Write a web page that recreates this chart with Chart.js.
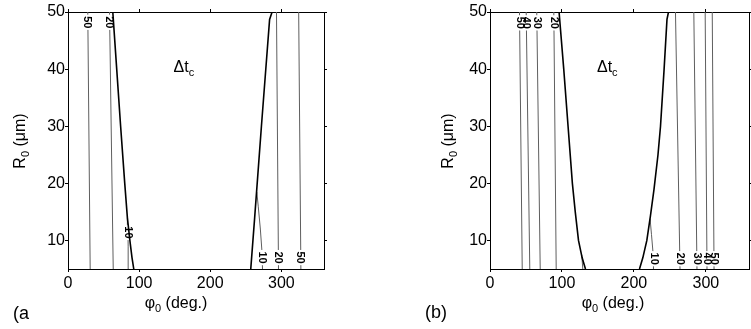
<!DOCTYPE html>
<html>
<head>
<meta charset="utf-8">
<script src="https://cdn.jsdelivr.net/npm/chart.js@4.4.1/dist/chart.umd.min.js"></script>
<style>
  html, body { margin: 0; padding: 0; background: #fff; }
  body { width: 751px; height: 329px; position: relative; overflow: hidden; }
  canvas { position: absolute; top: 0; }
  #chartA { left: 0; }
  #chartB { left: 420px; }
</style>
</head>
<body>
<canvas id="chartA" width="375" height="329"></canvas>
<canvas id="chartB" width="331" height="329"></canvas>
<script>
// tick labels, same for both panels
const phiTicks = [0, 100, 200, 300];
const rTicks = [10, 20, 30, 40, 50];

// panel (a): thin contours, phi0 (deg.) against R0 (um), bottom to top
const levelsA = [50, 20, 10, 10, 20, 50];
const phiA = [
  [31.2, 27.8],
  [63.6, 58.4],
  [85, 84.6, 84.2, 83.5],
  [273.5, 272.8, 270.5, 267.5, 265.5],
  [296, 293.2],
  [327.5, 324.4]
];
const rA = [
  [5, 50],
  [5, 50],
  [5, 9, 12, 14],
  [5, 8, 12, 16, 18.5],
  [5, 50],
  [5, 50]
];
// panel (a): thick boundary
const edgePhiA = [
  [92.5, 90, 87, 83.5, 79.8, 74, 68.5, 63],
  [257, 262.5, 272, 283.5, 287]
];
const edgeRA = [
  [5, 7, 10, 14, 20, 30, 40, 50],
  [5, 14, 30, 48.7, 50]
];
// panel (a): contour labels
const labelLevelsA = [50, 20, 10, 10, 20, 50];
const labelPhiA = [27.2, 57.5, 84.5, 273, 295, 326.2];
const labelRA = [48.2, 48.2, 11.4, 7, 7, 7];

// panel (b): thin contours
const levelsB = [50, 40, 30, 20, 10, 10, 20, 30, 40, 50];
const phiB = [
  [44.8, 41],
  [55.3, 50.3],
  [69.8, 65],
  [92, 88.7],
  [129, 127.5],
  [227.7, 227.2, 226.5, 224.5, 222.5],
  [264.1, 257.8],
  [287.7, 283.3],
  [301.6, 299.1],
  [311.4, 308.9]
];
const rB = [
  [5, 50],
  [5, 50],
  [5, 50],
  [5, 50],
  [5, 7.5],
  [5, 6, 8, 11, 13.8],
  [5, 50],
  [5, 50],
  [5, 50],
  [5, 50]
];
// panel (b): thick boundary
const edgePhiB = [
  [132.7, 128, 123, 118.5, 114.5, 108.5, 102.5, 96],
  [207.8, 212.5, 218, 223, 228, 233.5, 237, 242, 246, 248.1]
];
const edgeRB = [
  [5, 7, 10, 15, 20, 30, 40, 50],
  [5, 7, 10, 14.3, 19, 25, 30, 40, 48.7, 50]
];
// panel (b): contour labels
const labelLevelsB = [50, 40, 30, 20, 10, 20, 30, 40, 50];
const labelPhiB = [41.2, 50.5, 65.2, 88.8, 227.4, 263.8, 287.5, 301.4, 311.2];
const labelRB = [48.1, 48.1, 48.1, 48.1, 6.8, 6.8, 6.8, 6.8, 6.8];

// position of the Delta t_c note, in data units
const notePhi = 163;
const noteR = 40.5;

const FONT = '"Liberation Sans", Arial, sans-serif';

function series(phis, rs) {
  return phis.map((p, i) => ({ x: p, y: rs[i] }));
}

function buildDatasets(levels, phis, rs, edgePhis, edgeRs) {
  const ds = [];
  edgePhis.forEach((p, i) => ds.push({
    data: series(p, edgeRs[i]), showLine: true, borderColor: '#000', borderWidth: 1.6, order: 0
  }));
  phis.forEach((p, i) => ds.push({
    label: String(levels[i]), data: series(p, rs[i]), showLine: true,
    borderColor: '#5e5e5e', borderWidth: 1, order: 1
  }));
  return ds;
}

// text with subscripts: parts = [text, size, dy]
function richWidth(ctx, parts) {
  let w = 0;
  parts.forEach(([t, size]) => { ctx.font = size + 'px ' + FONT; w += ctx.measureText(t).width; });
  return w;
}
function drawRich(ctx, parts, x, y) {
  parts.forEach(([t, size, dy]) => {
    ctx.font = size + 'px ' + FONT;
    ctx.fillText(t, x, y + dy);
    x += ctx.measureText(t).width;
  });
}

const contourText = {
  id: 'contourText',
  beforeDatasetsDraw(chart) { chart.$labelled = false; },
  beforeDatasetDraw(chart, args) {
    // put labels on the thin lines before the thick boundary is drawn
    if (chart.$labelled || chart.data.datasets[args.index].order !== 0) return;
    chart.$labelled = true;
    const o = chart.options.plugins.contourText;
    const { ctx, scales } = chart;
    ctx.save();
    ctx.font = 'bold 11px ' + FONT;
    const pts = o.levels.map((lv, i) => ({
      text: String(lv),
      x: scales.x.getPixelForValue(o.phi[i]),
      y: scales.y.getPixelForValue(o.r[i])
    }));
    ctx.fillStyle = '#fff';
    pts.forEach(p => {
      const w = ctx.measureText(p.text).width;
      ctx.fillRect(p.x - 4, p.y - w / 2 - 1.5, 8, w + 3);
    });
    ctx.fillStyle = '#000';
    ctx.textAlign = 'center';
    ctx.textBaseline = 'middle';
    pts.forEach(p => {
      ctx.save();
      ctx.translate(p.x, p.y);
      ctx.rotate(Math.PI / 2);
      ctx.fillText(p.text, 0, 0);
      ctx.restore();
    });
    ctx.restore();
  },
  afterDraw(chart) {
    const o = chart.options.plugins.contourText;
    const { ctx, scales } = chart;
    ctx.save();
    ctx.fillStyle = '#000';
    ctx.textAlign = 'left';
    ctx.textBaseline = 'alphabetic';

    // y title
    const yParts = [['R', 16, 0], ['0', 11, 4], [' (\u03bcm)', 16, 0]];
    ctx.save();
    ctx.translate(o.yTitle[0], o.yTitle[1]);
    ctx.rotate(-Math.PI / 2);
    drawRich(ctx, yParts, -richWidth(ctx, yParts) / 2, 5.7);
    ctx.restore();

    // x title
    const xParts = [['\u03c6', 16, 0], ['0', 11, 4], [' (deg.)', 16, 0]];
    drawRich(ctx, xParts, o.xTitle[0] - richWidth(ctx, xParts) / 2, o.xTitle[1] + 5.7);

    // Delta t_c
    const nParts = [['\u0394t', 16, 0], ['c', 11, 4]];
    const nx = scales.x.getPixelForValue(notePhi);
    const ny = scales.y.getPixelForValue(noteR);
    drawRich(ctx, nParts, nx - richWidth(ctx, nParts) / 2, ny + 5.7);

    // panel letter
    ctx.font = '18px ' + FONT;
    ctx.fillText(o.letter, o.letterPos[0], o.letterPos[1]);
    ctx.restore();
  }
};

function makeChart(id, cfg) {
  const axisFont = { family: FONT, size: 16 };
  const grid = { drawOnChartArea: false, drawTicks: true, tickLength: 3, color: '#000', lineWidth: 1 };
  const border = { display: true, color: '#000', width: 1 };
  const setTicks = list => scale => { scale.ticks = list.map(v => ({ value: v })); };
  return new Chart(document.getElementById(id), {
    type: 'scatter',
    data: { datasets: cfg.datasets },
    options: {
      responsive: false,
      animation: false,
      devicePixelRatio: 1,
      layout: { padding: 0 },
      elements: { point: { radius: 0 }, line: { tension: 0 } },
      plugins: { legend: { display: false }, tooltip: { enabled: false }, contourText: cfg.text },
      scales: {
        x: {
          type: 'linear', position: 'bottom', min: 0, max: 360,
          afterBuildTicks: setTicks(phiTicks),
          afterFit: s => { s.height = 60; },
          ticks: { font: axisFont, color: '#000', padding: 2, maxRotation: 0, autoSkip: false },
          grid, border
        },
        x2: {
          type: 'linear', position: 'top', min: 0, max: 360,
          afterBuildTicks: setTicks(phiTicks),
          afterFit: s => { s.height = 12; },
          ticks: { display: false },
          grid, border
        },
        y: {
          type: 'linear', position: 'left', min: 5, max: 50,
          afterBuildTicks: setTicks(rTicks),
          afterFit: s => { s.width = cfg.leftWidth; },
          ticks: { font: axisFont, color: '#000', padding: 0, autoSkip: false },
          grid, border
        },
        y2: {
          type: 'linear', position: 'right', min: 5, max: 50,
          afterBuildTicks: setTicks(rTicks),
          afterFit: s => { s.width = cfg.rightWidth; },
          ticks: { display: false },
          grid, border
        }
      }
    },
    plugins: [contourText]
  });
}

makeChart('chartA', {
  datasets: buildDatasets(levelsA, phiA, rA, edgePhiA, edgeRA),
  leftWidth: 68,
  rightWidth: 51,
  text: {
    levels: labelLevelsA, phi: labelPhiA, r: labelRA,
    yTitle: [19, 141], xTitle: [176, 302],
    letter: '(a', letterPos: [13, 318.5]
  }
});

makeChart('chartB', {
  datasets: buildDatasets(levelsB, phiB, rB, edgePhiB, edgeRB),
  leftWidth: 70,
  rightWidth: 2,
  text: {
    levels: labelLevelsB, phi: labelPhiB, r: labelRB,
    yTitle: [27, 141], xTitle: [193, 302],
    letter: '(b)', letterPos: [5, 318]
  }
});
</script>
</body>
</html>
